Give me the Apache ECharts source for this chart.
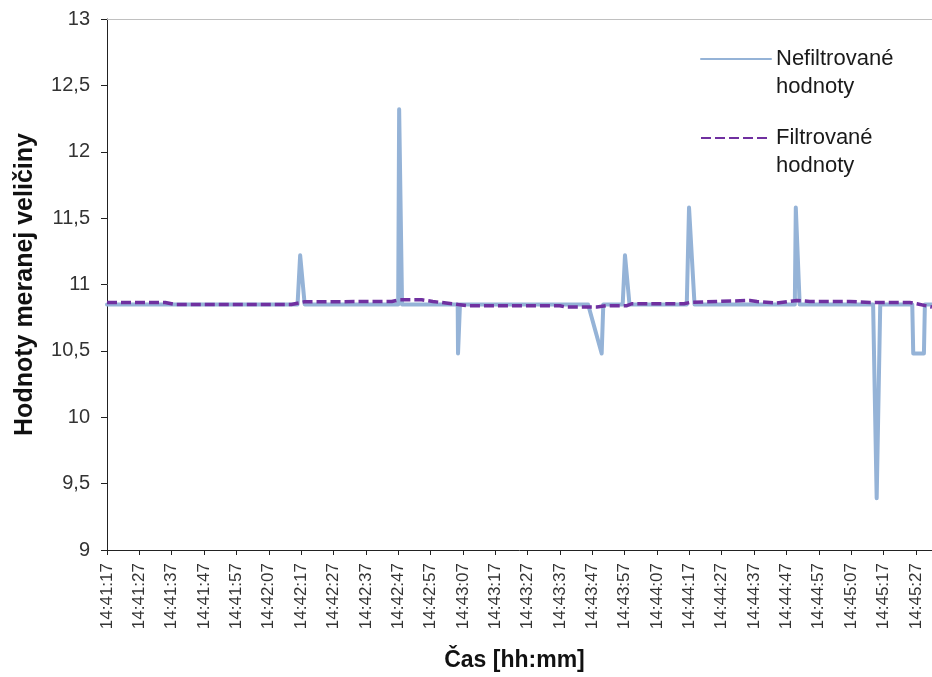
<!DOCTYPE html>
<html>
<head>
<meta charset="utf-8">
<script src="https://cdn.jsdelivr.net/npm/echarts@6/dist/echarts.min.js"></script>
<style>
  html, body { margin: 0; padding: 0; background: #fff; }
  #chart { width: 932px; height: 677px; }
</style>
</head>
<body>
<div id="chart"></div>
<script>
'use strict';

// x is seconds from 14:41:17
var tickLabels = ['14:41:17', '14:41:27', '14:41:37', '14:41:47', '14:41:57', '14:42:07',
    '14:42:17', '14:42:27', '14:42:37', '14:42:47', '14:42:57', '14:43:07', '14:43:17',
    '14:43:27', '14:43:37', '14:43:47', '14:43:57', '14:44:07', '14:44:17', '14:44:27',
    '14:44:37', '14:44:47', '14:44:57', '14:45:07', '14:45:17', '14:45:27'];

var rawSec = [0, 58.9, 59.7, 60.3, 61.1, 90.0, 90.3, 90.9, 91.2, 108.4, 108.5, 109.0, 109.1,
    148.7, 152.9, 153.4, 159.4, 160.1, 160.7, 161.5, 179.2, 179.9, 180.5, 181.6,
    212.6, 212.9, 213.5, 214.1, 236.8, 237.9, 238.3, 239.0, 248.9, 249.2, 252.5, 252.8, 255];
var rawVal = [10.85, 10.85, 11.22, 11.22, 10.85, 10.85, 12.32, 12.32, 10.85, 10.85, 10.48, 10.48, 10.85,
    10.85, 10.48, 10.85, 10.85, 11.22, 11.22, 10.85, 10.85, 11.58, 11.58, 10.85,
    10.85, 11.58, 11.58, 10.85, 10.85, 9.39, 9.39, 10.85, 10.85, 10.48, 10.48, 10.85, 10.85];

var filtSec = [0, 18, 21, 57, 61, 88, 90.5, 97.3, 100.7, 106.6, 111.5, 140, 141.8, 151.4, 154.2,
    160.7, 162.2, 178.3, 180.2, 188.5, 198.7, 200.9, 207, 213.2, 217.2, 229.6, 235.8, 248.1, 250.3, 255];
var filtVal = [10.865, 10.865, 10.85, 10.85, 10.87, 10.872, 10.885, 10.885, 10.872, 10.855, 10.84,
    10.84, 10.83, 10.83, 10.84, 10.84, 10.855, 10.855, 10.865, 10.872, 10.88, 10.872, 10.86,
    10.88, 10.872, 10.872, 10.865, 10.865, 10.855, 10.83];

var rawName = 'Nefiltrované\nhodnoty';
var filtName = 'Filtrované\nhodnoty';

var font = '"Liberation Sans", Arial, sans-serif';

var rawData = rawSec.map(function (s, i) { return [s, rawVal[i]]; });
var filtData = filtSec.map(function (s, i) { return [s, filtVal[i]]; });
var tickValues = tickLabels.map(function (t, i) { return i * 10; });

var myChart = echarts.init(document.getElementById('chart'));

var legendText = {
    fontFamily: font,
    fontSize: 22,
    lineHeight: 28,
    color: '#1a1a1a'
};

// leading empty line keeps the first text line level with the legend line
var legendFormatter = function (name) { return '\n' + name; };

var option = {
    animation: false,
    grid: {left: 107, right: 0, top: 19, bottom: 125},
    legend: [
        {data: [rawName], left: 700, top: 17, padding: 0, itemWidth: 70, itemHeight: 14,
            itemGap: 6, itemStyle: {opacity: 0}, formatter: legendFormatter, textStyle: legendText},
        {data: [filtName], left: 700, top: 96, padding: 0, itemWidth: 70, itemHeight: 14,
            itemGap: 6, itemStyle: {opacity: 0}, formatter: legendFormatter, textStyle: legendText}
    ],
    xAxis: [
        {
            type: 'value',
            min: 0,
            max: 255,
            name: 'Čas [hh:mm]',
            nameLocation: 'middle',
            nameGap: 99,
            nameTextStyle: {fontFamily: font, fontSize: 23, fontWeight: 'bold', color: '#111',
                padding: [0, 10, 0, 0]},
            axisLine: {onZero: false, lineStyle: {color: '#222', width: 1}},
            axisTick: {show: true, length: 5, lineStyle: {color: '#222'}, customValues: tickValues},
            axisLabel: {
                rotate: 90,
                margin: 13,
                fontFamily: font,
                fontSize: 17,
                color: '#333',
                customValues: tickValues,
                formatter: function (v) { return tickLabels[Math.round(v / 10)]; }
            },
            splitLine: {show: false}
        },
        {
            type: 'value',
            position: 'top',
            min: 0,
            max: 255,
            axisLine: {show: true, lineStyle: {color: '#c0c0c0', width: 1}},
            axisTick: {show: false},
            axisLabel: {show: false},
            splitLine: {show: false}
        }
    ],
    yAxis: {
        type: 'value',
        min: 9,
        max: 13,
        interval: 0.5,
        name: 'Hodnoty meranej veličiny',
        nameLocation: 'middle',
        nameGap: 69,
        nameTextStyle: {fontFamily: font, fontSize: 25, fontWeight: 'bold', color: '#111'},
        axisLine: {show: true, lineStyle: {color: '#222', width: 1}},
        axisTick: {show: true, length: 6, lineStyle: {color: '#222'}},
        axisLabel: {
            margin: 17,
            fontFamily: font,
            fontSize: 20,
            color: '#333',
            formatter: function (v) { return String(v).replace('.', ','); }
        },
        splitLine: {show: false}
    },
    series: [
        {
            name: rawName,
            type: 'line',
            data: rawData,
            symbol: 'none',
            lineStyle: {color: '#95b3d7', width: 4, cap: 'round', join: 'round'},
            itemStyle: {color: '#95b3d7'}
        },
        {
            name: filtName,
            type: 'line',
            data: filtData,
            symbol: 'none',
            lineStyle: {color: '#7030a0', width: 3.5, type: [10, 4], join: 'round'},
            itemStyle: {color: '#7030a0'}
        }
    ]
};

myChart.setOption(option);
</script>
</body>
</html>
